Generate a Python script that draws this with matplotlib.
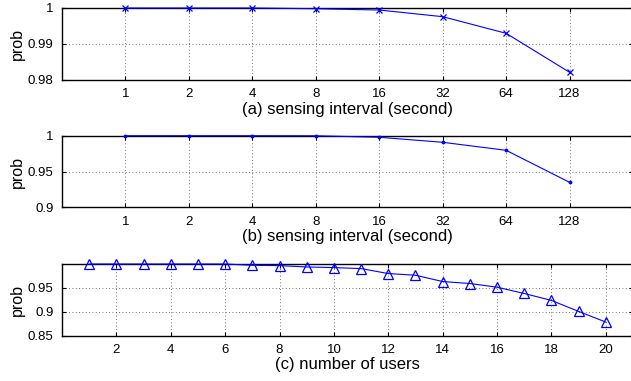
import matplotlib
matplotlib.use("Agg")
import matplotlib.pyplot as plt

plt.rcParams['font.family'] = ['Liberation Sans', 'DejaVu Sans']

interval_labels = ['1', '2', '4', '8', '16', '32', '64', '128']
prob_a = [1.0, 1.0, 1.0, 0.9998, 0.99944, 0.99759, 0.99297, 0.98214]
prob_b = [1.0, 1.0, 1.0, 0.9999, 0.9978, 0.9908, 0.9796, 0.9349]
users = list(range(1, 21))
prob_c = [1.0, 1.0, 1.0, 1.0, 1.0, 1.0, 0.9973, 0.9966, 0.9938, 0.9925,
          0.9904, 0.980, 0.9765, 0.9633, 0.9592, 0.9515, 0.9383, 0.9238,
          0.9008, 0.8785]

W, H = 631, 381
fig = plt.figure(figsize=(W / 100, H / 100), dpi=100)

left = 62 / W
width = (633 - 62) / W

def style(ax):
    ax.tick_params(direction='in', top=True, right=True, labelsize=9.5,
                   length=3, width=0.8, pad=6)
    ax.grid(True, linestyle=(0, (1, 3)), color='#444444', linewidth=0.6)
    for s in ax.spines.values():
        s.set_linewidth(1.0)
    ax.set_axisbelow(True)

def add_ax(top_px, bot_px):
    return fig.add_axes([left, 1 - bot_px / H, width, (bot_px - top_px) / H])

# (a)
ax1 = add_ax(8, 80)
x8 = list(range(1, 9))
ax1.plot(x8, prob_a, color='blue', marker='x', markersize=5, linewidth=0.8,
         markeredgewidth=0.9, clip_on=False, zorder=5)
ax1.set_xlim(0, 9)
ax1.set_ylim(0.98, 1.0)
ax1.set_xticks(x8)
ax1.set_xticklabels(interval_labels)
ax1.set_yticks([0.98, 0.99, 1.0])
ax1.set_yticklabels(['0.98', '0.99', '1'])
ax1.set_xlabel('(a) sensing interval (second)', fontsize=12, labelpad=1)
ax1.set_ylabel('prob', fontsize=11.5, labelpad=2)
style(ax1)

# (b)
ax2 = add_ax(135.7, 207.3)
ax2.plot(x8, prob_b, color='blue', marker='.', markersize=3.5, linewidth=0.8,
         clip_on=False, zorder=5)
ax2.set_xlim(0, 9)
ax2.set_ylim(0.9, 1.0)
ax2.set_xticks(x8)
ax2.set_xticklabels(interval_labels)
ax2.set_yticks([0.9, 0.95, 1.0])
ax2.set_yticklabels(['0.9', '0.95', '1'])
ax2.set_xlabel('(b) sensing interval (second)', fontsize=12, labelpad=1)
ax2.set_ylabel('prob', fontsize=11.5, labelpad=2)
style(ax2)

# (c)
ax3 = add_ax(264, 335.7)
ax3.plot(users, prob_c, color='blue', marker='^', markersize=7,
         markerfacecolor='none', markeredgecolor='blue', linewidth=0.8,
         markeredgewidth=0.9, clip_on=False, zorder=5)
ax3.set_xlim(0, 21)
ax3.set_ylim(0.85, 1.0)
ax3.set_xticks(list(range(2, 21, 2)))
ax3.set_yticks([0.85, 0.9, 0.95])
ax3.set_yticklabels(['0.85', '0.9', '0.95'])
ax3.set_xlabel('(c) number of users', fontsize=12, labelpad=1)
ax3.set_ylabel('prob', fontsize=11.5, labelpad=2)
style(ax3)

fig.savefig('out.png', dpi=100)
